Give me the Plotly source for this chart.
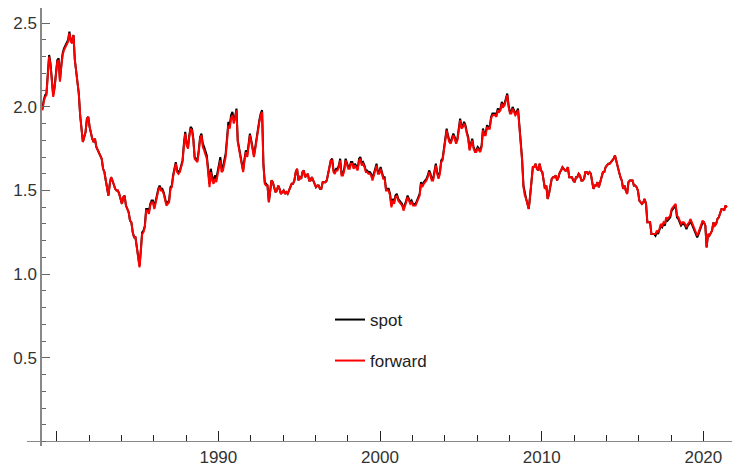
import pandas as pd
import plotly.graph_objects as go

# Monthly GBP/USD readings, Jan 1979 .. Jun 2021
start_month = "1979-01-15"

spot = [
    2.01, 1.99, 2.04, 2.07, 2.08, 2.18, 2.31, 2.26, 2.17, 2.07, 2.12, 2.20,  # 1979
    2.28, 2.29, 2.16, 2.25, 2.32, 2.35, 2.37, 2.39, 2.40, 2.45, 2.40, 2.39,  # 1980
    2.43, 2.28, 2.22, 2.15, 2.08, 1.95, 1.88, 1.79, 1.82, 1.85, 1.93, 1.94,  # 1981
    1.88, 1.84, 1.81, 1.79, 1.81, 1.76, 1.74, 1.73, 1.70, 1.69, 1.63, 1.61,  # 1982
    1.56, 1.52, 1.47, 1.54, 1.58, 1.56, 1.53, 1.51, 1.50, 1.50, 1.48, 1.45,  # 1983
    1.42, 1.46, 1.47, 1.41, 1.39, 1.37, 1.32, 1.31, 1.25, 1.22, 1.22, 1.17,  # 1984
    1.12, 1.05, 1.14, 1.25, 1.26, 1.29, 1.39, 1.39, 1.37, 1.42, 1.44, 1.44,  # 1985
    1.40, 1.43, 1.47, 1.51, 1.53, 1.51, 1.51, 1.49, 1.46, 1.42, 1.43, 1.44,  # 1986
    1.52, 1.53, 1.59, 1.64, 1.67, 1.62, 1.61, 1.62, 1.65, 1.68, 1.78, 1.85,  # 1987
    1.78, 1.76, 1.83, 1.88, 1.87, 1.81, 1.70, 1.69, 1.68, 1.74, 1.82, 1.84,  # 1988
    1.78, 1.76, 1.73, 1.71, 1.63, 1.54, 1.63, 1.58, 1.56, 1.59, 1.57, 1.61,  # 1989
    1.66, 1.70, 1.63, 1.64, 1.68, 1.72, 1.81, 1.91, 1.89, 1.95, 1.97, 1.92,  # 1990
    1.94, 1.99, 1.80, 1.75, 1.72, 1.65, 1.62, 1.69, 1.74, 1.71, 1.78, 1.84,  # 1991
    1.80, 1.76, 1.71, 1.76, 1.82, 1.86, 1.92, 1.96, 1.98, 1.66, 1.55, 1.54,  # 1992
    1.53, 1.43, 1.48, 1.56, 1.55, 1.52, 1.49, 1.50, 1.53, 1.51, 1.48, 1.49,  # 1993
    1.50, 1.48, 1.49, 1.48, 1.50, 1.53, 1.54, 1.54, 1.56, 1.61, 1.63, 1.56,  # 1994
    1.58, 1.57, 1.61, 1.62, 1.58, 1.59, 1.60, 1.56, 1.56, 1.58, 1.56, 1.54,  # 1995
    1.52, 1.53, 1.53, 1.51, 1.51, 1.55, 1.55, 1.55, 1.56, 1.60, 1.66, 1.68,  # 1996
    1.69, 1.62, 1.61, 1.63, 1.63, 1.65, 1.69, 1.60, 1.60, 1.63, 1.69, 1.66,  # 1997
    1.64, 1.64, 1.67, 1.67, 1.64, 1.66, 1.64, 1.63, 1.69, 1.70, 1.66, 1.67,  # 1998
    1.65, 1.62, 1.62, 1.61, 1.61, 1.60, 1.57, 1.60, 1.63, 1.66, 1.61, 1.61,  # 1999
    1.64, 1.60, 1.58, 1.58, 1.51, 1.51, 1.51, 1.48, 1.41, 1.45, 1.43, 1.47,  # 2000
    1.48, 1.45, 1.44, 1.43, 1.42, 1.39, 1.41, 1.44, 1.47, 1.45, 1.43, 1.44,  # 2001
    1.42, 1.42, 1.42, 1.44, 1.46, 1.48, 1.55, 1.53, 1.55, 1.56, 1.57, 1.59,  # 2002
    1.62, 1.60, 1.57, 1.57, 1.63, 1.66, 1.61, 1.58, 1.61, 1.68, 1.69, 1.75,  # 2003
    1.82, 1.87, 1.83, 1.80, 1.79, 1.82, 1.84, 1.82, 1.79, 1.81, 1.86, 1.93,  # 2004
    1.88, 1.89, 1.91, 1.89, 1.85, 1.82, 1.75, 1.79, 1.81, 1.76, 1.74, 1.74,  # 2005
    1.76, 1.75, 1.74, 1.77, 1.87, 1.84, 1.84, 1.89, 1.88, 1.88, 1.94, 1.96,  # 2006
    1.96, 1.96, 1.95, 1.99, 1.98, 1.99, 2.03, 2.01, 2.02, 2.05, 2.08, 2.01,  # 2007
    1.97, 1.97, 2.00, 1.98, 1.96, 1.97, 1.99, 1.89, 1.79, 1.69, 1.53, 1.48,  # 2008
    1.45, 1.42, 1.39, 1.47, 1.54, 1.64, 1.64, 1.66, 1.63, 1.62, 1.66, 1.62,  # 2009
    1.61, 1.56, 1.51, 1.53, 1.45, 1.48, 1.53, 1.57, 1.58, 1.58, 1.59, 1.56,  # 2010
    1.58, 1.61, 1.62, 1.64, 1.63, 1.62, 1.62, 1.64, 1.58, 1.58, 1.58, 1.56,  # 2011
    1.55, 1.58, 1.58, 1.60, 1.59, 1.56, 1.56, 1.57, 1.61, 1.61, 1.60, 1.61,  # 2012
    1.60, 1.55, 1.51, 1.53, 1.53, 1.55, 1.52, 1.55, 1.59, 1.61, 1.61, 1.64,  # 2013
    1.65, 1.66, 1.66, 1.67, 1.68, 1.69, 1.71, 1.67, 1.63, 1.61, 1.58, 1.56,  # 2014
    1.51, 1.53, 1.50, 1.48, 1.55, 1.56, 1.56, 1.56, 1.53, 1.53, 1.52, 1.50,  # 2015
    1.44, 1.43, 1.42, 1.43, 1.45, 1.42, 1.31, 1.31, 1.31, 1.24, 1.24, 1.24,  # 2016
    1.23, 1.25, 1.24, 1.26, 1.29, 1.28, 1.30, 1.29, 1.33, 1.32, 1.33, 1.34,  # 2017
    1.38, 1.39, 1.40, 1.41, 1.34, 1.33, 1.31, 1.29, 1.30, 1.30, 1.29, 1.27,  # 2018
    1.29, 1.30, 1.32, 1.30, 1.29, 1.27, 1.25, 1.22, 1.24, 1.26, 1.29, 1.31,  # 2019
    1.31, 1.29, 1.16, 1.24, 1.23, 1.25, 1.26, 1.31, 1.29, 1.30, 1.33, 1.34,  # 2020
    1.36, 1.39, 1.39, 1.38, 1.41, 1.40,                                      # 2021
]

forward = [
    2.00, 1.98, 2.03, 2.06, 2.07, 2.17, 2.30, 2.25, 2.16, 2.06, 2.11, 2.19,  # 1979
    2.27, 2.28, 2.15, 2.24, 2.31, 2.34, 2.36, 2.38, 2.39, 2.44, 2.39, 2.38,  # 1980
    2.43, 2.28, 2.22, 2.15, 2.08, 1.95, 1.88, 1.79, 1.82, 1.85, 1.93, 1.94,  # 1981
    1.88, 1.84, 1.81, 1.79, 1.81, 1.76, 1.74, 1.73, 1.70, 1.69, 1.63, 1.61,  # 1982
    1.56, 1.52, 1.47, 1.54, 1.58, 1.56, 1.53, 1.51, 1.50, 1.50, 1.48, 1.45,  # 1983
    1.42, 1.46, 1.47, 1.41, 1.39, 1.37, 1.32, 1.31, 1.25, 1.22, 1.22, 1.17,  # 1984
    1.11, 1.04, 1.13, 1.24, 1.25, 1.28, 1.38, 1.38, 1.36, 1.41, 1.43, 1.43,  # 1985
    1.39, 1.42, 1.46, 1.50, 1.52, 1.50, 1.50, 1.48, 1.45, 1.41, 1.42, 1.43,  # 1986
    1.51, 1.52, 1.58, 1.63, 1.66, 1.61, 1.60, 1.61, 1.64, 1.67, 1.77, 1.84,  # 1987
    1.77, 1.75, 1.82, 1.87, 1.86, 1.80, 1.69, 1.68, 1.67, 1.73, 1.81, 1.83,  # 1988
    1.76, 1.74, 1.71, 1.69, 1.61, 1.52, 1.61, 1.56, 1.54, 1.57, 1.55, 1.59,  # 1989
    1.64, 1.68, 1.61, 1.62, 1.66, 1.70, 1.79, 1.89, 1.87, 1.93, 1.95, 1.90,  # 1990
    1.93, 1.98, 1.79, 1.74, 1.71, 1.64, 1.61, 1.68, 1.73, 1.70, 1.77, 1.83,  # 1991
    1.79, 1.75, 1.70, 1.75, 1.81, 1.85, 1.91, 1.95, 1.97, 1.65, 1.54, 1.53,  # 1992
    1.53, 1.43, 1.48, 1.56, 1.55, 1.52, 1.49, 1.50, 1.53, 1.51, 1.48, 1.49,  # 1993
    1.50, 1.48, 1.49, 1.48, 1.50, 1.53, 1.54, 1.54, 1.56, 1.61, 1.63, 1.56,  # 1994
    1.58, 1.57, 1.61, 1.62, 1.58, 1.59, 1.60, 1.56, 1.56, 1.58, 1.56, 1.54,  # 1995
    1.52, 1.53, 1.53, 1.51, 1.51, 1.55, 1.55, 1.55, 1.56, 1.60, 1.66, 1.68,  # 1996
    1.68, 1.61, 1.60, 1.62, 1.62, 1.64, 1.68, 1.59, 1.59, 1.62, 1.68, 1.65,  # 1997
    1.63, 1.63, 1.66, 1.66, 1.63, 1.65, 1.63, 1.62, 1.68, 1.69, 1.65, 1.66,  # 1998
    1.64, 1.61, 1.61, 1.60, 1.60, 1.59, 1.56, 1.59, 1.62, 1.65, 1.60, 1.60,  # 1999
    1.63, 1.59, 1.57, 1.57, 1.50, 1.50, 1.50, 1.47, 1.40, 1.44, 1.42, 1.46,  # 2000
    1.47, 1.44, 1.43, 1.42, 1.41, 1.38, 1.40, 1.43, 1.46, 1.44, 1.42, 1.43,  # 2001
    1.41, 1.41, 1.41, 1.43, 1.45, 1.47, 1.54, 1.52, 1.54, 1.55, 1.56, 1.58,  # 2002
    1.61, 1.59, 1.56, 1.56, 1.62, 1.65, 1.60, 1.57, 1.60, 1.67, 1.68, 1.74,  # 2003
    1.81, 1.86, 1.82, 1.79, 1.78, 1.81, 1.83, 1.81, 1.78, 1.80, 1.85, 1.92,  # 2004
    1.87, 1.88, 1.90, 1.88, 1.84, 1.81, 1.74, 1.78, 1.80, 1.75, 1.73, 1.73,  # 2005
    1.75, 1.74, 1.73, 1.76, 1.86, 1.83, 1.83, 1.88, 1.87, 1.87, 1.93, 1.95,  # 2006
    1.95, 1.95, 1.94, 1.98, 1.97, 1.98, 2.02, 2.00, 2.01, 2.04, 2.07, 2.00,  # 2007
    1.96, 1.96, 1.99, 1.97, 1.95, 1.96, 1.98, 1.88, 1.78, 1.68, 1.52, 1.47,  # 2008
    1.45, 1.42, 1.39, 1.47, 1.54, 1.64, 1.64, 1.66, 1.63, 1.62, 1.66, 1.62,  # 2009
    1.61, 1.56, 1.51, 1.53, 1.45, 1.48, 1.53, 1.57, 1.58, 1.58, 1.59, 1.56,  # 2010
    1.58, 1.61, 1.62, 1.64, 1.63, 1.62, 1.62, 1.64, 1.58, 1.58, 1.58, 1.56,  # 2011
    1.55, 1.58, 1.58, 1.60, 1.59, 1.56, 1.56, 1.57, 1.61, 1.61, 1.60, 1.61,  # 2012
    1.60, 1.55, 1.51, 1.53, 1.53, 1.55, 1.52, 1.55, 1.59, 1.61, 1.61, 1.64,  # 2013
    1.65, 1.66, 1.66, 1.67, 1.68, 1.69, 1.71, 1.67, 1.63, 1.61, 1.58, 1.56,  # 2014
    1.51, 1.53, 1.50, 1.48, 1.55, 1.56, 1.56, 1.56, 1.53, 1.53, 1.52, 1.50,  # 2015
    1.44, 1.43, 1.42, 1.43, 1.45, 1.42, 1.31, 1.31, 1.31, 1.24, 1.24, 1.24,  # 2016
    1.24, 1.26, 1.25, 1.27, 1.30, 1.29, 1.31, 1.30, 1.34, 1.33, 1.34, 1.35,  # 2017
    1.39, 1.40, 1.41, 1.42, 1.35, 1.34, 1.32, 1.30, 1.31, 1.31, 1.30, 1.28,  # 2018
    1.30, 1.31, 1.33, 1.31, 1.30, 1.28, 1.26, 1.23, 1.25, 1.27, 1.30, 1.32,  # 2019
    1.31, 1.29, 1.16, 1.24, 1.23, 1.25, 1.26, 1.31, 1.29, 1.30, 1.33, 1.34,  # 2020
    1.36, 1.39, 1.39, 1.38, 1.41, 1.40,                                      # 2021
]

x_tick_years = ["1980", "1990", "2000", "2010", "2020"]
x_tick_labels = ["", "1990", "2000", "2010", "2020"]
y_tick_vals = [0.5, 1.0, 1.5, 2.0, 2.5]
y_tick_labels = ["0.5", "1.0", "1.5", "2.0", "2.5"]

dates = pd.date_range("1979-01-01", periods=len(spot), freq="MS") + pd.Timedelta(days=14)

FONT = "Liberation Sans, Arial, sans-serif"
# page offset of 8px (browser body margin) is absorbed by a smaller figure
W, H = 732, 458
ML, MR, MT, MB = 19, 0, 0, 20
plot_w = W - ML - MR
plot_h = H - MT - MB
OX, OY = 27, 8          # page position of plot area's top-left corner
BOT = OY + plot_h       # page y of plot area's bottom edge

fig = go.Figure()
fig.add_trace(go.Scatter(x=dates, y=spot, mode="lines", name="spot",
                         line=dict(color="black", width=2), legend="legend"))
fig.add_trace(go.Scatter(x=dates, y=forward, mode="lines", name="forward",
                         line=dict(color="#ff0000", width=2), legend="legend2"))

LEG_X = (330 - OX) / plot_w
fig.update_layout(
    width=W, height=H,
    margin=dict(l=ML, r=MR, t=MT, b=MB, autoexpand=False),
    paper_bgcolor="white", plot_bgcolor="white",
    font=dict(family=FONT, size=17, color="#333333"),
    showlegend=True,
    legend=dict(x=LEG_X, y=(BOT - 320) / plot_h, xanchor="left", yanchor="middle",
                bgcolor="rgba(0,0,0,0)", font=dict(size=17, color="#222222")),
    legend2=dict(x=LEG_X, y=(BOT - 361) / plot_h, xanchor="left", yanchor="middle",
                 bgcolor="rgba(0,0,0,0)", font=dict(size=17, color="#222222")),
    xaxis=dict(
        type="date",
        range=["1978-03-02", "2022-04-08"],
        anchor="free", position=(BOT - 441) / plot_h,
        automargin=False,
        showgrid=False, zeroline=False,
        showline=True, linecolor="#888888", linewidth=1.2,
        tickmode="array", tickvals=[y + "-01-01" for y in x_tick_years], ticktext=x_tick_labels,
        ticks="inside", ticklen=10, tickwidth=1, tickcolor="#222222",
        minor=dict(dtick="M24", tick0="1980-01-01", ticks="inside", ticklen=6,
                   tickwidth=1, tickcolor="#222222", showgrid=False),
        tickfont=dict(size=17, color="#333333"),
    ),
    yaxis=dict(
        range=[-0.027, 2.591],
        anchor="free", position=(41 - OX) / plot_w,
        automargin=False,
        showgrid=False, zeroline=False,
        showline=True, linecolor="#888888", linewidth=1.5,
        tickmode="array", tickvals=y_tick_vals, ticktext=y_tick_labels,
        ticks="inside", ticklen=8, tickwidth=1, tickcolor="#666666",
        minor=dict(dtick=0.1, tick0=0, ticks="inside", ticklen=4,
                   tickwidth=1, tickcolor="#666666", showgrid=False),
        tickfont=dict(size=17, color="#333333"),
    ),
)

fig.write_html("out.html")
